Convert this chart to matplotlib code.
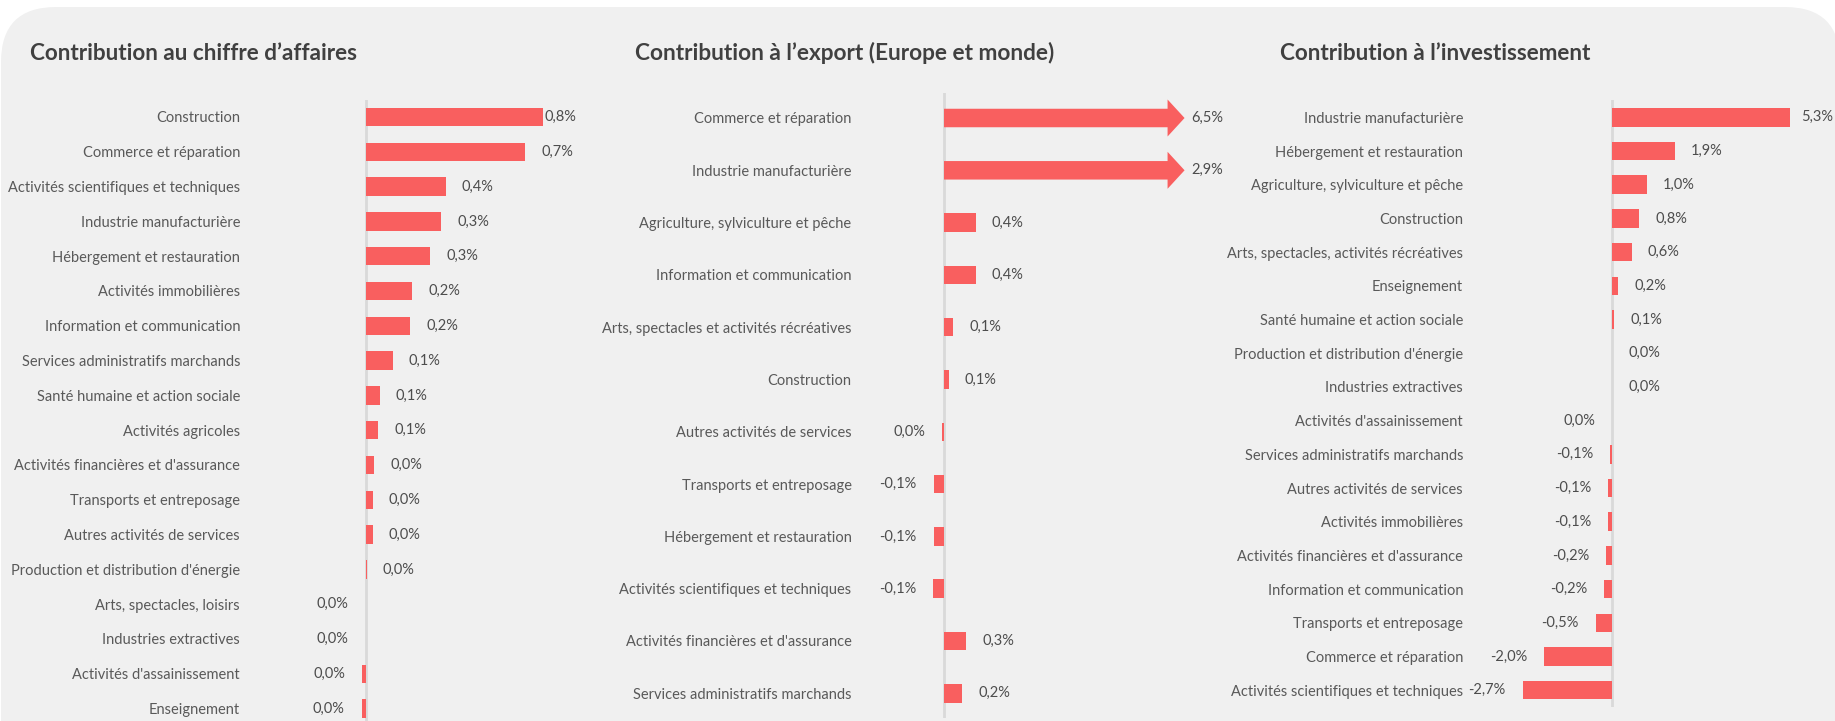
import matplotlib
matplotlib.use('Agg')
import matplotlib.pyplot as plt
from matplotlib.patches import FancyBboxPatch, FancyArrow
from matplotlib.transforms import IdentityTransform
import numpy as np

W, H, DPI = 1835, 721, 100

# ---------------- data ----------------
ca_categories = [
    "Construction", "Commerce et réparation", "Activités scientifiques et techniques",
    "Industrie manufacturière", "Hébergement et restauration", "Activités immobilières",
    "Information et communication", "Services administratifs marchands",
    "Santé humaine et action sociale", "Activités agricoles",
    "Activités financières et d'assurance", "Transports et entreposage",
    "Autres activités de services", "Production et distribution d'énergie",
    "Arts, spectacles, loisirs", "Industries extractives",
    "Activités d'assainissement", "Enseignement",
]
ca_values = [0.80, 0.72, 0.36, 0.34, 0.29, 0.21, 0.20, 0.12, 0.062, 0.056,
             0.038, 0.031, 0.031, 0.003, -0.001, -0.001, -0.018, -0.02]

exp_categories = [
    "Commerce et réparation", "Industrie manufacturière",
    "Agriculture, sylviculture et pêche", "Information et communication",
    "Arts, spectacles et activités récréatives", "Construction",
    "Autres activités de services", "Transports et entreposage",
    "Hébergement et restauration", "Activités scientifiques et techniques",
    "Activités financières et d'assurance", "Services administratifs marchands",
]
exp_values = [6.5, 2.87, 0.40, 0.40, 0.12, 0.06, -0.02, -0.13, -0.13, -0.14, 0.28, 0.23]

inv_categories = [
    "Industrie manufacturière", "Hébergement et restauration",
    "Agriculture, sylviculture et pêche", "Construction",
    "Arts, spectacles, activités récréatives", "Enseignement",
    "Santé humaine et action sociale", "Production et distribution d'énergie",
    "Industries extractives", "Activités d'assainissement",
    "Services administratifs marchands", "Autres activités de services",
    "Activités immobilières", "Activités financières et d'assurance",
    "Information et communication", "Transports et entreposage",
    "Commerce et réparation", "Activités scientifiques et techniques",
]
inv_values = [5.30, 1.88, 1.04, 0.81, 0.59, 0.18, 0.06, 0.004, 0.003, -0.003,
              -0.06, -0.11, -0.11, -0.17, -0.24, -0.49, -2.01, -2.66]

titles = ["Contribution au chiffre d’affaires",
          "Contribution à l’export (Europe et monde)",
          "Contribution à l’investissement"]

# ---------------- style ----------------
FONT = 'Lato'
BAR = '#F95F5F'
AXIS = '#D9D9D9'
TXT = '#595959'
VTXT = '#4D4D4D'
TTL = '#404040'
BG = '#F0F0F0'

fig = plt.figure(figsize=(W / DPI, H / DPI), dpi=DPI)
fig.patch.set_facecolor('white')
bg = FancyBboxPatch((1, -100), 1839, H - 7 + 100,
                    boxstyle='round,pad=0,rounding_size=55',
                    transform=IdentityTransform(), fc=BG, ec='none', zorder=0)
fig.add_artist(bg)

renderer = fig.canvas.get_renderer()


def fit_size(text, target_px, **kw):
    t = fig.text(0, 0, text, fontsize=10, family=FONT, **kw)
    w = t.get_window_extent(renderer).width
    t.remove()
    return 10 * target_px / w


LBL_SIZE = fit_size("Activités scientifiques et techniques", 231)


def fmt(v):
    r = round(v, 1)
    if r == 0:
        r = 0.0
    return f"{r:.1f}".replace('.', ',') + '%'


def panel(cats, vals, zero_px, ppu, ax_l, ax_r, y0, step, top, bottom,
          label_right, bar_px=18.5, arrow_min=None, arrow_cap=None,
          head_w_px=37, head_l_px=17):
    ax = fig.add_axes([ax_l / W, 1 - bottom / H, (ax_r - ax_l) / W, (bottom - top) / H])
    ax.set_facecolor('none')
    ax.set_xlim((ax_l - zero_px) / ppu, (ax_r - zero_px) / ppu)
    n = len(cats)
    ax.set_ylim((bottom - y0) / step, (top - y0) / step)
    for s in ax.spines.values():
        s.set_visible(False)
    ax.set_xticks([])
    ax.set_yticks(np.arange(n))
    ax.set_yticklabels(cats, family=FONT, fontsize=LBL_SIZE, color=TXT)
    ax.tick_params(axis='y', length=0, pad=(ax_l - label_right) * 72 / DPI)
    ax.axvline(0, color=AXIS, lw=2, zorder=1)
    bh = bar_px / step
    y = np.arange(n)
    texts = []
    for i, v in enumerate(vals):
        if arrow_min is not None and v >= arrow_min:
            hl = head_l_px / ppu
            shaft = min(v, arrow_cap)
            ar = FancyArrow(0, i, shaft + hl, 0, width=bh, head_width=head_w_px / step,
                            head_length=hl, length_includes_head=True,
                            fc=BAR, ec='none', zorder=2)
            ax.add_patch(ar)
            t = ax.text(shaft + hl + 7 / ppu, i, fmt(v), ha='left', va='center',
                        family=FONT, fontsize=LBL_SIZE, color=VTXT)
        else:
            ax.barh(i, v, height=bh, color=BAR, zorder=2)
            if v >= 0:
                t = ax.text(v + 16 / ppu, i, fmt(v), ha='left', va='center',
                            family=FONT, fontsize=LBL_SIZE, color=VTXT)
            else:
                t = ax.text(v - 17 / ppu, i, fmt(v), ha='right', va='center',
                            family=FONT, fontsize=LBL_SIZE, color=VTXT)
        t.set_clip_on(False)
        texts.append(t)
    return ax, texts


ax1, t1 = panel(ca_categories, ca_values, zero_px=366, ppu=221, ax_l=300, ax_r=580,
                y0=117, step=34.8, top=100, bottom=725, label_right=240)
ax2, t2 = panel(exp_categories, exp_values, zero_px=944, ppu=79, ax_l=900, ax_r=1200,
                y0=118, step=52.3, top=93, bottom=718, label_right=851.5,
                arrow_min=2.5, arrow_cap=2.83)
ax3, t3 = panel(inv_categories, inv_values, zero_px=1612, ppu=33.6, ax_l=1500, ax_r=1830,
                y0=117.3, step=33.7, top=100, bottom=707, label_right=1463)

# keep value labels inside the plot area (as the spreadsheet renderer does)
fig.canvas.draw()
for ax, texts, clamp in [(ax1, t1, 576), (ax3, t3, 1833)]:
    for t in texts:
        bb = t.get_window_extent(renderer)
        if bb.x1 > clamp:
            x_disp = clamp - bb.width
            xd = ax.transData.inverted().transform((x_disp, bb.y0))[0]
            t.set_x(xd)
            t.set_ha('left')

# titles
title_specs = [(titles[0], 29.7, 327), (titles[1], 634.8, 420), (titles[2], 1280, 311)]
for txt, x, wpx in title_specs:
    sz = fit_size(txt, wpx, fontweight='bold')
    fig.text(x / W, 1 - 59.5 / H, txt, ha='left', va='baseline', family=FONT,
             fontweight='bold', fontsize=sz, color=TTL)

fig.savefig('out.png', dpi=DPI, facecolor='white')
